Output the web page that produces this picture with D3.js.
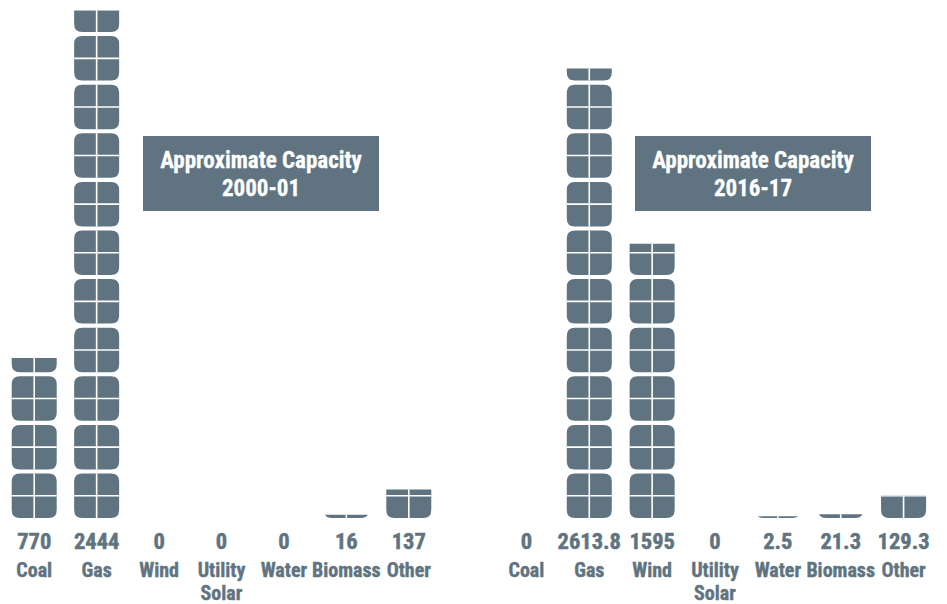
<!DOCTYPE html>
<html><head><meta charset="utf-8">
<script src="https://cdn.jsdelivr.net/npm/d3@7"></script>
<style>
html,body{margin:0;padding:0;background:#fff;}
svg{display:block;}
text{font-family:"Liberation Sans Narrow","Arial Narrow","Roboto Condensed","Liberation Sans",sans-serif;font-weight:bold;}
</style></head>
<body><svg id="chart" width="947" height="604"></svg>
<script>
const categories = ["Coal","Gas","Wind","Utility Solar","Water","Biomass","Other"];
const values2000 = [770, 2444, 0, 0, 0, 16, 137];
const labels2000 = ["770","2444","0","0","0","16","137"];
const values2016 = [0, 2613.8, 1595, 0, 2.5, 21.3, 129.3];
const labels2016 = ["0","2613.8","1595","0","2.5","21.3","129.3"];
const titles = [["Approximate Capacity","2000-01"],["Approximate Capacity","2016-17"]];

const color = "#5f7480";
const svg = d3.select("#chart");
const defs = svg.append("defs");
const baseY = 518;
const barW = 45, iconH = 44.5, period = 48.6, rr = 8;

const panels = [
  {values: values2000, labels: labels2000, x0: 3, x1: 440, yTop: baseY - 2444*0.2078, yMax: 2444, title: titles[0], box:[143,136,236,75]},
  {values: values2016, labels: labels2016, x0: 495, x1: 935, yTop: baseY - 2613.8*0.172, yMax: 2613.8, title: titles[1], box:[635,136,236,75]}
];

function iconPath(x, top, w, h, r){
  return `M${x},${top+r} Q${x},${top} ${x+r},${top} L${x+w-r},${top} Q${x+w},${top} ${x+w},${top+r} L${x+w},${top+h-r} Q${x+w},${top+h} ${x+w-r},${top+h} L${x+r},${top+h} Q${x},${top+h} ${x},${top+h-r} Z`;
}

panels.forEach((p, pi) => {
  const x = d3.scaleBand().domain(categories).range([p.x0, p.x1]).paddingInner(0.28).paddingOuter(0.14);
  const y = d3.scaleLinear().domain([0, p.yMax]).range([baseY, p.yTop]);
  const g = svg.append("g");
  g.append("rect").attr("x", p.box[0]).attr("y", p.box[1]).attr("width", p.box[2]).attr("height", p.box[3]).attr("fill", color);
  g.append("text").attr("x", p.box[0]+p.box[2]/2).attr("y", 168).attr("text-anchor","middle").attr("fill","#fff").attr("stroke","#fff").attr("stroke-width",0.3).attr("font-size",23).text(p.title[0]);
  g.append("text").attr("x", p.box[0]+p.box[2]/2).attr("y", 196).attr("text-anchor","middle").attr("fill","#fff").attr("stroke","#fff").attr("stroke-width",0.3).attr("font-size",23).text(p.title[1]);

  categories.forEach((c, i) => {
    const v = p.values[i];
    const cx = x(c) + x.bandwidth()/2;
    const bx = cx - barW/2;
    if (v > 0) {
      let top = y(v);
      if (baseY - top < 1.8) top = baseY - 1.8;
      const h = baseY - top;
      const id = `clip-${pi}-${i}`;
      defs.append("clipPath").attr("id", id).append("rect").attr("x", bx-1).attr("y", top).attr("width", barW+2).attr("height", h+1);
      const bg = g.append("g").attr("clip-path", `url(#${id})`);
      const n = Math.ceil(h / period);
      for (let k = 0; k < n; k++) {
        const bottom = baseY - k*period;
        const it = bottom - iconH;
        bg.append("path").attr("d", iconPath(bx, it, barW, iconH, rr)).attr("fill", color);
        bg.append("line").attr("x1", cx).attr("x2", cx).attr("y1", it).attr("y2", bottom).attr("stroke","#fff").attr("stroke-width",1.6);
        bg.append("line").attr("x1", bx).attr("x2", bx+barW).attr("y1", it+iconH/2).attr("y2", it+iconH/2).attr("stroke","#fff").attr("stroke-width",1.6);
      }
    }
    g.append("text").attr("x", cx).attr("y", 549).attr("text-anchor","middle").attr("fill", color).attr("stroke", color).attr("stroke-width",0.5).attr("font-size",22.5).text(p.labels[i]);
    const words = c === "Utility Solar" ? ["Utility","Solar"] : [c];
    words.forEach((w, wi) => {
      g.append("text").attr("x", cx).attr("y", 577 + wi*23).attr("text-anchor","middle").attr("fill", color).attr("stroke", color).attr("stroke-width",0.4).attr("font-size",20).text(w);
    });
  });
});
</script>
</body></html>
